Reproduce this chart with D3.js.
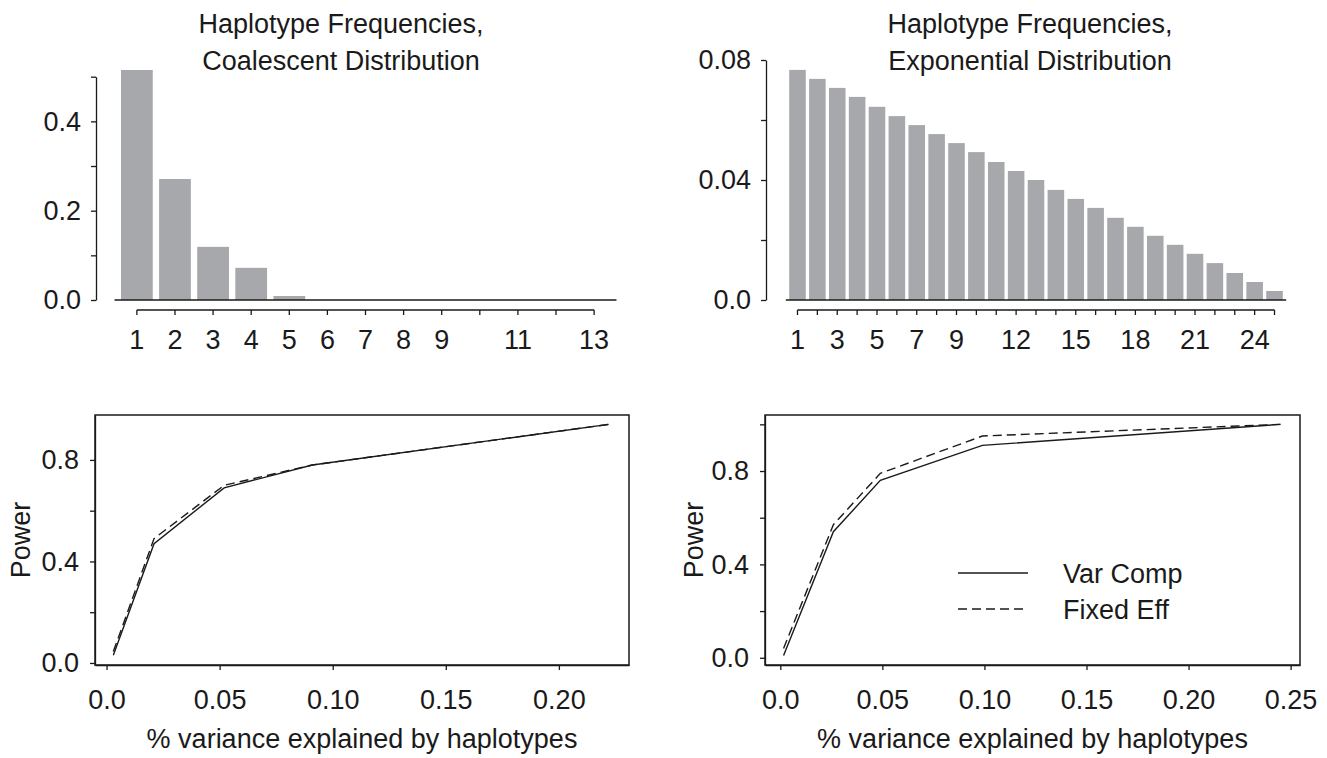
<!DOCTYPE html>
<html>
<head>
<meta charset="utf-8">
<script src="https://cdn.jsdelivr.net/npm/d3@7"></script>
<style>
  body { margin: 0; background: #fff; }
  text { font-family: "Liberation Sans", Arial, Helvetica, sans-serif; fill: #1a1a1a; }
</style>
</head>
<body>
<div id="chart"></div>
<script>
/* ---- data ---- */

// top left: coalescent haplotype frequencies
var coalHap = [1, 2, 3, 4, 5, 6, 7, 8, 9, 10, 11, 12, 13];
var coalFreq = [0.515, 0.271, 0.119, 0.072, 0.009, 0, 0, 0, 0, 0, 0, 0, 0];
var coalShown = [1, 2, 3, 4, 5, 6, 7, 8, 9, 11, 13];
var coalYTicks = [0, 0.1, 0.2, 0.3, 0.4, 0.5];
var coalYLabels = ["0.0", "", "0.2", "", "0.4", ""];

// top right: exponential haplotype frequencies
var expHap = [1, 2, 3, 4, 5, 6, 7, 8, 9, 10, 11, 12, 13, 14, 15, 16, 17, 18, 19, 20, 21, 22, 23, 24, 25];
var expFreq = [0.0767, 0.0737, 0.0707, 0.0677, 0.0644, 0.0613, 0.0583, 0.0553, 0.0523, 0.0493,
               0.0460, 0.0430, 0.0400, 0.0367, 0.0337, 0.0307, 0.0274, 0.0244, 0.0214, 0.0184,
               0.0154, 0.0123, 0.0090, 0.0060, 0.0030];
var expShown = [1, 3, 5, 7, 9, 12, 15, 18, 21, 24];
var expYTicks = [0, 0.02, 0.04, 0.06, 0.08];
var expYLabels = ["0.0", "", "0.04", "", "0.08"];

// bottom left: power, coalescent
var coalVar = [0.003, 0.021, 0.052, 0.091, 0.222];
var coalVarComp = [0.03, 0.47, 0.69, 0.78, 0.94];
var coalFixedEff = [0.045, 0.49, 0.70, 0.78, 0.94];
var coalXTicks = [0, 0.05, 0.10, 0.15, 0.20];
var coalXLabels = ["0.0", "0.05", "0.10", "0.15", "0.20"];
var coalPowTicks = [0, 0.2, 0.4, 0.6, 0.8];
var coalPowLabels = ["0.0", "", "0.4", "", "0.8"];

// bottom right: power, exponential
var expVar = [0.0016, 0.026, 0.049, 0.099, 0.245];
var expVarComp = [0.01, 0.54, 0.76, 0.91, 1.0];
var expFixedEff = [0.04, 0.57, 0.79, 0.95, 1.0];
var expXTicks = [0, 0.05, 0.10, 0.15, 0.20, 0.25];
var expXLabels = ["0.0", "0.05", "0.10", "0.15", "0.20", "0.25"];
var expPowTicks = [0, 0.2, 0.4, 0.6, 0.8, 1.0];
var expPowLabels = ["0.0", "", "0.4", "", "0.8", ""];

var seriesNames = ["Var Comp", "Fixed Eff"];

/* ---- page ---- */
var width = 1327,
    height = 758,
    ink = "#1a1a1a",
    barFill = "#a7a8ac",
    fontSize = 27;

var svg = d3.select("#chart")
    .append("svg")
    .attr("width", width)
    .attr("height", height);

/* style a d3 axis group like the R plot */
function styleAxis(g) {
    g.attr("font-size", fontSize)
        .attr("font-family", "Liberation Sans, Arial, sans-serif")
        .style("color", ink);
    g.selectAll("line, path").attr("stroke-width", 1.3);
}

/* bar chart panel */
function barPanel(p) {
    var x = d3.scaleBand()
        .domain(p.cats)
        .range(p.xRange)
        .paddingInner(0.2 / 1.2)
        .paddingOuter(0);

    var y = d3.scaleLinear()
        .domain([0, p.yTicks[p.yTicks.length - 1]])
        .range(p.yRange);

    /* bars */
    svg.append("g").selectAll("rect")
        .data(p.values)
        .enter().append("rect")
        .attr("x", function (d, i) { return x(p.cats[i]); })
        .attr("y", function (d) { return y(d); })
        .attr("width", x.bandwidth())
        .attr("height", function (d) { return y(0) - y(d); })
        .attr("fill", barFill);

    /* base line under the bars */
    var pad = x.step() * 0.17;
    svg.append("line")
        .attr("x1", p.xRange[0] - pad)
        .attr("x2", p.xRange[1] + pad)
        .attr("y1", y(0))
        .attr("y2", y(0))
        .attr("stroke", ink)
        .attr("stroke-width", 1.4);

    /* y axis */
    var yAxis = d3.axisLeft(y)
        .tickValues(p.yTicks)
        .tickFormat(function (d, i) { return p.yLabels[i]; })
        .tickSize(5)
        .tickSizeOuter(0)
        .tickPadding(10);
    svg.append("g")
        .attr("transform", "translate(" + p.axisX + ",0)")
        .call(yAxis)
        .call(styleAxis);

    /* category axis, drawn below the base line */
    var catAxis = d3.axisBottom(x)
        .tickValues(p.cats)
        .tickFormat(function (d) { return p.shown.indexOf(d) >= 0 ? String(d) : ""; })
        .tickSize(5)
        .tickPadding(15);
    var cg = svg.append("g")
        .attr("transform", "translate(0," + p.catY + ")")
        .call(catAxis)
        .call(styleAxis);
    cg.select(".domain").remove();
    cg.append("line")
        .attr("x1", x(p.cats[0]) + x.bandwidth() / 2)
        .attr("x2", x(p.cats[p.cats.length - 1]) + x.bandwidth() / 2)
        .attr("stroke", ink)
        .attr("stroke-width", 1.3);

    /* two line title */
    svg.append("text")
        .attr("x", p.titleX).attr("y", 33)
        .attr("text-anchor", "middle")
        .attr("font-size", fontSize)
        .text(p.title[0]);
    svg.append("text")
        .attr("x", p.titleX).attr("y", 70)
        .attr("text-anchor", "middle")
        .attr("font-size", fontSize)
        .text(p.title[1]);
}

/* power curve panel */
function linePanel(p) {
    var x = d3.scaleLinear().domain(p.xDomain).range([p.box[0], p.box[1]]);
    var y = d3.scaleLinear().domain(p.yDomain).range([p.box[3], p.box[2]]);

    var xAxis = d3.axisBottom(x)
        .tickValues(p.xTicks)
        .tickFormat(function (d, i) { return p.xLabels[i]; })
        .tickSize(5)
        .tickSizeOuter(0)
        .tickPadding(20);
    svg.append("g")
        .attr("transform", "translate(0," + p.box[3] + ")")
        .call(xAxis)
        .call(styleAxis);

    var yAxis = d3.axisLeft(y)
        .tickValues(p.yTicks)
        .tickFormat(function (d, i) { return p.yLabels[i]; })
        .tickSize(5)
        .tickSizeOuter(0)
        .tickPadding(11);
    svg.append("g")
        .attr("transform", "translate(" + p.box[0] + ",0)")
        .call(yAxis)
        .call(styleAxis);

    /* frame */
    svg.append("rect")
        .attr("x", p.box[0]).attr("y", p.box[2])
        .attr("width", p.box[1] - p.box[0])
        .attr("height", p.box[3] - p.box[2])
        .attr("fill", "none")
        .attr("stroke", ink)
        .attr("stroke-width", 1.5);

    var line = d3.line()
        .x(function (d, i) { return x(p.xs[i]); })
        .y(function (d) { return y(d); });

    svg.append("path")
        .attr("d", line(p.solid))
        .attr("fill", "none")
        .attr("stroke", ink)
        .attr("stroke-width", 1.4);

    svg.append("path")
        .attr("d", line(p.dashed))
        .attr("fill", "none")
        .attr("stroke", ink)
        .attr("stroke-width", 1.4)
        .attr("stroke-dasharray", "9,5");

    /* axis titles */
    svg.append("text")
        .attr("x", (p.box[0] + p.box[1]) / 2)
        .attr("y", 748)
        .attr("text-anchor", "middle")
        .attr("font-size", fontSize)
        .text("% variance explained by haplotypes");
    svg.append("text")
        .attr("transform", "translate(" + p.powerX + "," + (p.box[2] + p.box[3]) / 2 + ") rotate(-90)")
        .attr("dy", "0.36em")
        .attr("text-anchor", "middle")
        .attr("font-size", fontSize)
        .text("Power");
}

barPanel({
    cats: coalHap, values: coalFreq, shown: coalShown,
    yTicks: coalYTicks, yLabels: coalYLabels,
    xRange: [121, 610], yRange: [300, 76.7], axisX: 96, catY: 310,
    title: ["Haplotype Frequencies,", "Coalescent Distribution"], titleX: 341
});

barPanel({
    cats: expHap, values: expFreq, shown: expShown,
    yTicks: expYTicks, yLabels: expYLabels,
    xRange: [789.2, 1282.8], yRange: [300, 60], axisX: 766, catY: 310,
    title: ["Haplotype Frequencies,", "Exponential Distribution"], titleX: 1030
});

linePanel({
    box: [95, 629, 415, 665], xDomain: [-0.0051, 0.231], yDomain: [-0.008, 0.977],
    xs: coalVar, solid: coalVarComp, dashed: coalFixedEff,
    xTicks: coalXTicks, xLabels: coalXLabels,
    yTicks: coalPowTicks, yLabels: coalPowLabels, powerX: 20
});

linePanel({
    box: [765, 1300, 415, 665], xDomain: [-0.0075, 0.2546], yDomain: [-0.031, 1.040],
    xs: expVar, solid: expVarComp, dashed: expFixedEff,
    xTicks: expXTicks, xLabels: expXLabels,
    yTicks: expPowTicks, yLabels: expPowLabels, powerX: 693
});

/* legend in the lower right panel */
var legend = svg.append("g").attr("transform", "translate(958,573)");
legend.selectAll("line")
    .data(seriesNames)
    .enter().append("line")
    .attr("x1", 0).attr("x2", 70)
    .attr("y1", function (d, i) { return i * 36; })
    .attr("y2", function (d, i) { return i * 36; })
    .attr("stroke", ink)
    .attr("stroke-width", 1.4)
    .attr("stroke-dasharray", function (d, i) { return i === 0 ? null : "9,5"; });
legend.selectAll("text")
    .data(seriesNames)
    .enter().append("text")
    .attr("x", 105)
    .attr("y", function (d, i) { return i * 36; })
    .attr("dy", "0.36em")
    .attr("font-size", fontSize)
    .text(function (d) { return d; });
</script>
</body>
</html>
